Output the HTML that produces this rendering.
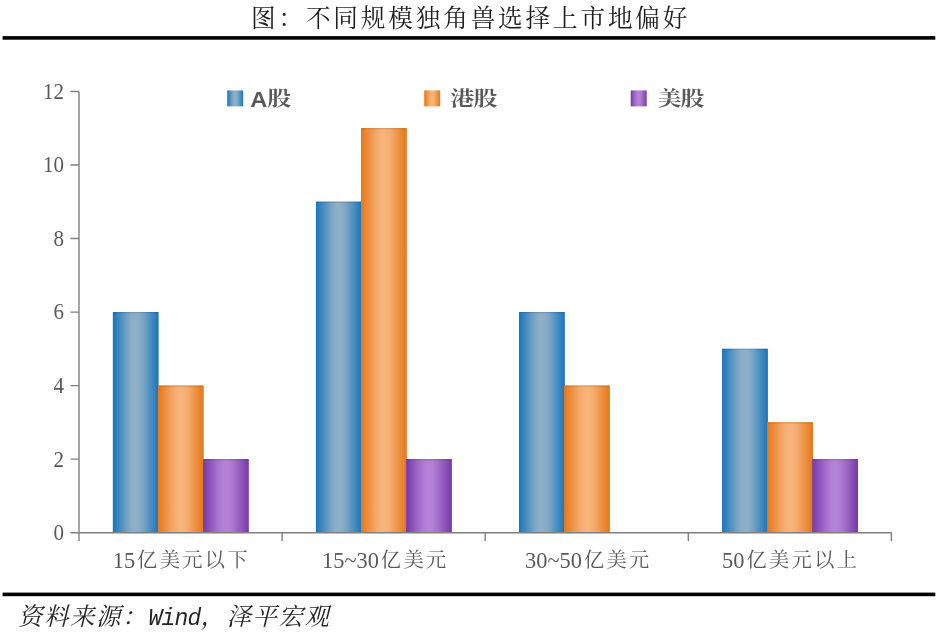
<!DOCTYPE html>
<html lang="zh-CN">
<head>
<meta charset="utf-8">
<title>图：不同规模独角兽选择上市地偏好</title>
<style>
html,body{margin:0;padding:0;background:#fff;}
body{width:937px;height:635px;overflow:hidden;position:relative;}
svg{display:block;position:absolute;left:0;top:0;}
.title{font-family:"Liberation Serif","Noto Serif CJK SC",serif;font-size:24.6px;fill:#1f1f1f;letter-spacing:2.86px;font-weight:400;}
.src{font-family:"Liberation Serif","Noto Serif CJK SC",serif;font-size:24.5px;letter-spacing:1.5px;fill:#262626;font-style:italic;font-weight:400;}
.src .la{font-family:"Liberation Mono",monospace;font-size:23px;letter-spacing:-0.8px;font-weight:400;}
.ax{font-family:"Liberation Serif","Noto Serif CJK SC",serif;font-size:21px;fill:#595959;}
.xl{font-family:"Liberation Serif","Noto Serif CJK SC",serif;font-size:22.4px;fill:#595959;}
.xl .c{font-size:20.2px;letter-spacing:2.4px;}
.lg{font-family:"Liberation Sans","Noto Serif CJK SC",sans-serif;font-size:22.5px;fill:#595959;font-weight:bold;}
.lg .c{font-size:20px;letter-spacing:-0.8px;font-weight:700;}
</style>
</head>
<body>
<svg width="937" height="635" viewBox="0 0 937 635">
<defs>
<linearGradient id="gb" x1="0" y1="0" x2="1" y2="0"><stop offset="0.00" stop-color="#1a76bc"/><stop offset="0.08" stop-color="#3282be"/><stop offset="0.20" stop-color="#5492c1"/><stop offset="0.32" stop-color="#76a3c5"/><stop offset="0.42" stop-color="#8aadc6"/><stop offset="0.50" stop-color="#90b0c7"/><stop offset="0.58" stop-color="#8aadc6"/><stop offset="0.68" stop-color="#76a3c5"/><stop offset="0.80" stop-color="#5492c1"/><stop offset="0.92" stop-color="#3282be"/><stop offset="1.00" stop-color="#1a76bc"/></linearGradient>
<linearGradient id="go" x1="0" y1="0" x2="1" y2="0"><stop offset="0.00" stop-color="#e5781a"/><stop offset="0.08" stop-color="#e9842e"/><stop offset="0.20" stop-color="#ee954a"/><stop offset="0.32" stop-color="#f3a766"/><stop offset="0.42" stop-color="#f6b177"/><stop offset="0.50" stop-color="#f7b47c"/><stop offset="0.58" stop-color="#f6b177"/><stop offset="0.68" stop-color="#f3a766"/><stop offset="0.80" stop-color="#ee954a"/><stop offset="0.92" stop-color="#e9842e"/><stop offset="1.00" stop-color="#e5781a"/></linearGradient>
<linearGradient id="gp" x1="0" y1="0" x2="1" y2="0"><stop offset="0.00" stop-color="#783aa8"/><stop offset="0.08" stop-color="#8449b2"/><stop offset="0.20" stop-color="#955ec0"/><stop offset="0.32" stop-color="#a673cd"/><stop offset="0.42" stop-color="#b07fd6"/><stop offset="0.50" stop-color="#b383d8"/><stop offset="0.58" stop-color="#b07fd6"/><stop offset="0.68" stop-color="#a673cd"/><stop offset="0.80" stop-color="#955ec0"/><stop offset="0.92" stop-color="#8449b2"/><stop offset="1.00" stop-color="#783aa8"/></linearGradient>
</defs>
<rect x="0" y="0" width="937" height="635" fill="#ffffff"/>
<text class="title" x="251" y="26.6">图：不同规模独角兽选择上市地偏好</text>
<rect x="2.6" y="36.1" width="932.7" height="3.6" fill="#000"/>
<rect x="2.6" y="592.6" width="932.7" height="3.6" fill="#000"/>
<text class="src" x="18" y="624.5">资料来源：<tspan class="la" x="148.5">Wind</tspan><tspan x="200.5">，泽平宏观</tspan></text>

<g>
<rect x="112.80" y="312.08" width="45.70" height="220.62" fill="#1a76bc"/>
<rect x="113.10" y="312.08" width="45.10" height="220.62" fill="url(#gb)"/>
<rect x="113.10" y="312.08" width="45.10" height="1.2" fill="#000" fill-opacity="0.12"/>
<rect x="157.90" y="385.62" width="45.70" height="147.08" fill="#e5781a"/>
<rect x="158.20" y="385.62" width="45.10" height="147.08" fill="url(#go)"/>
<rect x="158.20" y="385.62" width="45.10" height="1.2" fill="#000" fill-opacity="0.12"/>
<rect x="203.00" y="459.16" width="45.70" height="73.54" fill="#783aa8"/>
<rect x="203.30" y="459.16" width="45.10" height="73.54" fill="url(#gp)"/>
<rect x="203.30" y="459.16" width="45.10" height="1.2" fill="#000" fill-opacity="0.12"/>
<rect x="315.90" y="201.77" width="45.70" height="330.93" fill="#1a76bc"/>
<rect x="316.20" y="201.77" width="45.10" height="330.93" fill="url(#gb)"/>
<rect x="316.20" y="201.77" width="45.10" height="1.2" fill="#000" fill-opacity="0.12"/>
<rect x="361.00" y="128.23" width="45.70" height="404.47" fill="#e5781a"/>
<rect x="361.30" y="128.23" width="45.10" height="404.47" fill="url(#go)"/>
<rect x="361.30" y="128.23" width="45.10" height="1.2" fill="#000" fill-opacity="0.12"/>
<rect x="406.10" y="459.16" width="45.70" height="73.54" fill="#783aa8"/>
<rect x="406.40" y="459.16" width="45.10" height="73.54" fill="url(#gp)"/>
<rect x="406.40" y="459.16" width="45.10" height="1.2" fill="#000" fill-opacity="0.12"/>
<rect x="519.00" y="312.08" width="45.70" height="220.62" fill="#1a76bc"/>
<rect x="519.30" y="312.08" width="45.10" height="220.62" fill="url(#gb)"/>
<rect x="519.30" y="312.08" width="45.10" height="1.2" fill="#000" fill-opacity="0.12"/>
<rect x="564.10" y="385.62" width="45.70" height="147.08" fill="#e5781a"/>
<rect x="564.40" y="385.62" width="45.10" height="147.08" fill="url(#go)"/>
<rect x="564.40" y="385.62" width="45.10" height="1.2" fill="#000" fill-opacity="0.12"/>
<rect x="722.10" y="348.85" width="45.70" height="183.85" fill="#1a76bc"/>
<rect x="722.40" y="348.85" width="45.10" height="183.85" fill="url(#gb)"/>
<rect x="722.40" y="348.85" width="45.10" height="1.2" fill="#000" fill-opacity="0.12"/>
<rect x="767.20" y="422.39" width="45.70" height="110.31" fill="#e5781a"/>
<rect x="767.50" y="422.39" width="45.10" height="110.31" fill="url(#go)"/>
<rect x="767.50" y="422.39" width="45.10" height="1.2" fill="#000" fill-opacity="0.12"/>
<rect x="812.30" y="459.16" width="45.70" height="73.54" fill="#783aa8"/>
<rect x="812.60" y="459.16" width="45.10" height="73.54" fill="url(#gp)"/>
<rect x="812.60" y="459.16" width="45.10" height="1.2" fill="#000" fill-opacity="0.12"/>
</g>
<g stroke="#7f7f7f" stroke-width="1.4" fill="none"><path d="M79.0 91.46V541.00M70.5 532.7H892.00M70.5 459.16H79.0M70.5 385.62H79.0M70.5 312.08H79.0M70.5 238.54H79.0M70.5 165.00H79.0M70.5 91.46H79.0M282.10 532.7V541.00M485.20 532.7V541.00M688.30 532.7V541.00M891.40 532.7V541.00"/></g>
<g class="ax" text-anchor="end">
<text transform="translate(63.9 540.10) scale(1 1.1)">0</text>
<text transform="translate(63.9 466.56) scale(1 1.1)">2</text>
<text transform="translate(63.9 393.02) scale(1 1.1)">4</text>
<text transform="translate(63.9 319.48) scale(1 1.1)">6</text>
<text transform="translate(63.9 245.94) scale(1 1.1)">8</text>
<text transform="translate(63.9 172.40) scale(1 1.1)">10</text>
<text transform="translate(63.9 98.86) scale(1 1.1)">12</text>
</g>
<g class="xl">
<text text-anchor="end" transform="translate(135.20 567.5) scale(1 1.05)">15</text><text class="c" x="137.10" y="567.2">亿美元以下</text>
<text text-anchor="end" transform="translate(378.90 567.5) scale(1 1.05)">15~30</text><text class="c" x="380.80" y="567.2">亿美元</text>
<text text-anchor="end" transform="translate(582.00 567.5) scale(1 1.05)">30~50</text><text class="c" x="583.90" y="567.2">亿美元</text>
<text text-anchor="end" transform="translate(744.50 567.5) scale(1 1.05)">50</text><text class="c" x="746.40" y="567.2">亿美元以上</text>
</g>
<rect x="227.2" y="90.4" width="16" height="16" fill="url(#gb)"/>
<text class="lg" transform="translate(250.2 106.6) scale(1.05 1)">A</text>
<text class="lg" transform="translate(267.2 105.8) scale(1.2 1)"><tspan class="c">股</tspan></text>
<rect x="424.2" y="90.4" width="16" height="16" fill="url(#go)"/>
<text class="lg" transform="translate(450.4 105.8) scale(1.2 1)"><tspan class="c">港股</tspan></text>
<rect x="630.7" y="90.4" width="16" height="16" fill="url(#gp)"/>
<text class="lg" transform="translate(657.4 105.8) scale(1.2 1)"><tspan class="c">美股</tspan></text>
</svg>
</body>
</html>
